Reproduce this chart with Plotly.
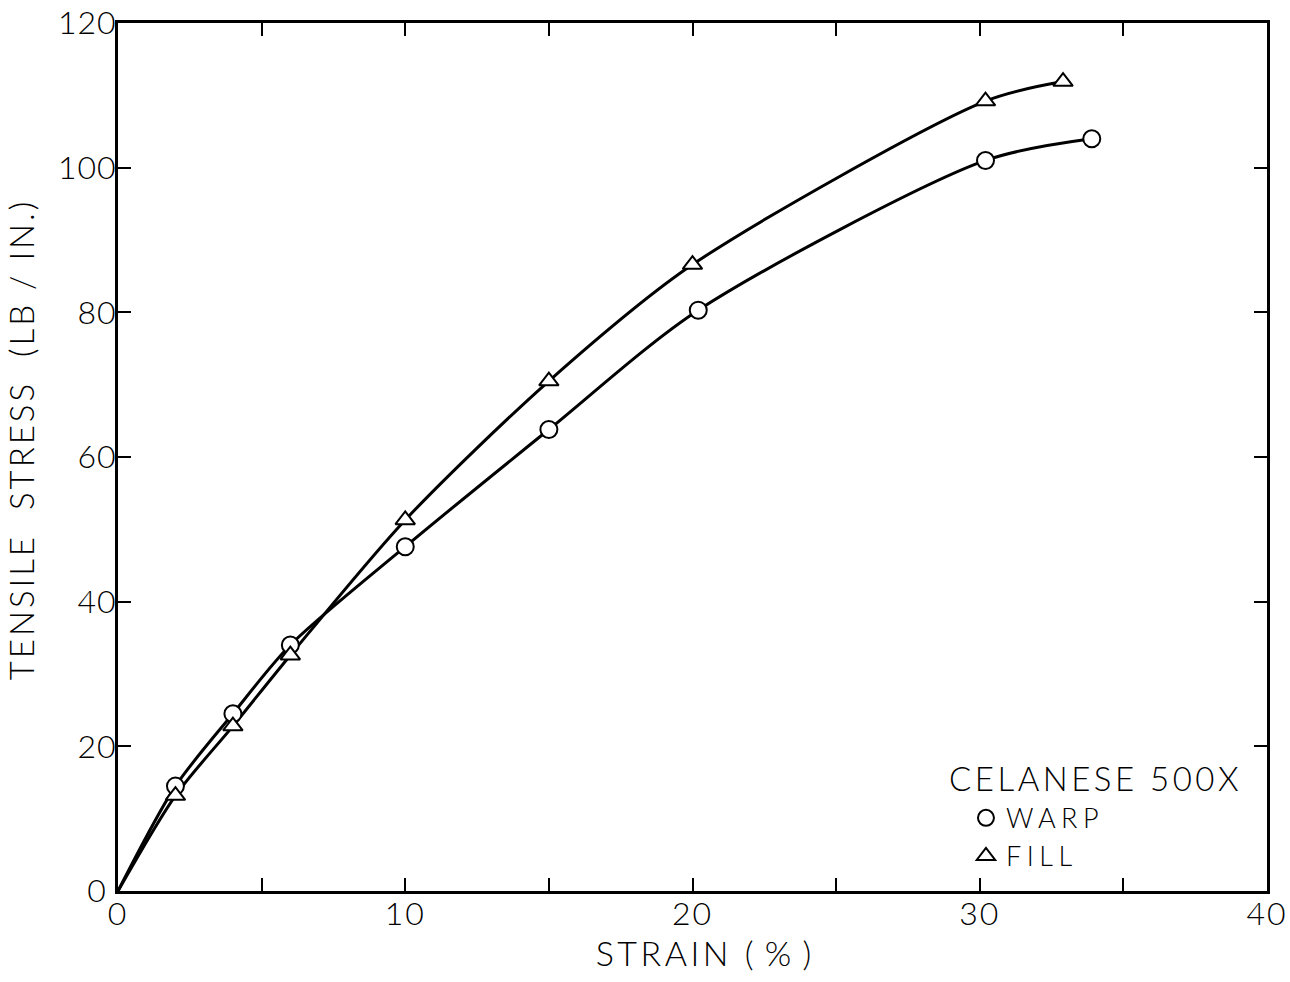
import plotly.graph_objects as go

# Data
warp_strain = [2, 4, 6, 10, 15, 20.2, 30.2, 33.9]
warp_stress = [14.5, 24.5, 34.0, 47.6, 63.8, 80.3, 101.0, 104.0]
fill_strain = [2, 4, 6, 10, 15, 20.0, 30.2, 32.9]
fill_stress = [13.2, 22.8, 32.6, 51.3, 70.5, 86.6, 109.2, 111.9]
origin = [0]

x_tickvals = [0, 5, 10, 15, 20, 25, 30, 35, 40]
x_ticklabels = ["0", "", "10", "", "20", "", "30", "", "40"]
y_tickvals = [0, 20, 40, 60, 80, 100, 120]
y_ticklabels = ["0\u00a0", "20", "40", "60", "80", "100", "120"]

FONT = "Lato"
NB = "\u00a0"


def spaced(s, px):
    return f'<span style="letter-spacing:{px}px">{s}</span>' if s else s


fig = go.Figure()

fig.add_trace(go.Scatter(x=origin + warp_strain, y=origin + warp_stress, mode="lines",
                         line=dict(color="black", width=3, shape="spline", smoothing=0.8),
                         showlegend=False, hoverinfo="skip"))
fig.add_trace(go.Scatter(x=origin + fill_strain, y=origin + fill_stress, mode="lines",
                         line=dict(color="black", width=3, shape="spline", smoothing=0.8),
                         showlegend=False, hoverinfo="skip"))
fig.add_trace(go.Scatter(x=warp_strain, y=warp_stress, mode="markers", name=spaced("WARP", 5.5),
                         marker=dict(symbol="circle", size=17, color="white",
                                     line=dict(color="black", width=2))))
fig.add_trace(go.Scatter(x=fill_strain, y=fill_stress, mode="markers", name=spaced("FILL", 5.5),
                         marker=dict(symbol="triangle-up", size=17, color="white",
                                     line=dict(color="black", width=2))))

axis_common = dict(showline=True, linecolor="black", linewidth=3, mirror="ticks",
                   ticks="inside", ticklen=13, tickwidth=2, tickcolor="black",
                   showgrid=False, zeroline=False, automargin=False,
                   ticklabeloverflow="allow",
                   tickfont=dict(family=FONT, size=32, color="black", weight=300))

fig.update_xaxes(range=[0, 40], tickmode="array", tickvals=x_tickvals,
                 ticktext=[spaced(t, 2) for t in x_ticklabels], ticklabelstandoff=-7,
                 title=dict(text=spaced(NB * 2 + "STRAIN (\u2009%\u2009)", 3.5),
                            font=dict(family=FONT, size=34, color="black", weight=300),
                            standoff=9),
                 **axis_common)
fig.update_yaxes(range=[0, 120], tickmode="array", tickvals=y_tickvals,
                 ticktext=[spaced(t, 1) for t in y_ticklabels], ticklabelstandoff=-8,
                 title=dict(text=spaced(NB * 3 + "TENSILE" + NB * 2 + "STRESS" + NB * 2 + "(LB" + NB + "/" + NB + "IN.)", 3),
                            font=dict(family=FONT, size=33, color="black", weight=300),
                            standoff=14),
                 **axis_common)

fig.add_annotation(xref="x", yref="y", x=28.85, y=15.6, xanchor="left", yanchor="middle",
                   text=spaced("CELANESE 500X", 3.5), showarrow=False,
                   font=dict(family=FONT, size=33, color="black", weight=300))

fig.update_layout(
    width=1290, height=982,
    margin=dict(l=118, r=23, t=23, b=91),
    paper_bgcolor="white", plot_bgcolor="white",
    legend=dict(font=dict(family=FONT, size=27, color="black", weight=300),
                x=0.738, y=0.112, xanchor="left", yanchor="top",
                bgcolor="rgba(0,0,0,0)", tracegroupgap=0, itemwidth=30),
)

# remove the default page margin so the 1290x982 figure fills the window exactly
fig.write_html("out.html", config={"displayModeBar": False},
               post_script="document.body.style.margin='0';document.body.style.overflow='hidden';")
